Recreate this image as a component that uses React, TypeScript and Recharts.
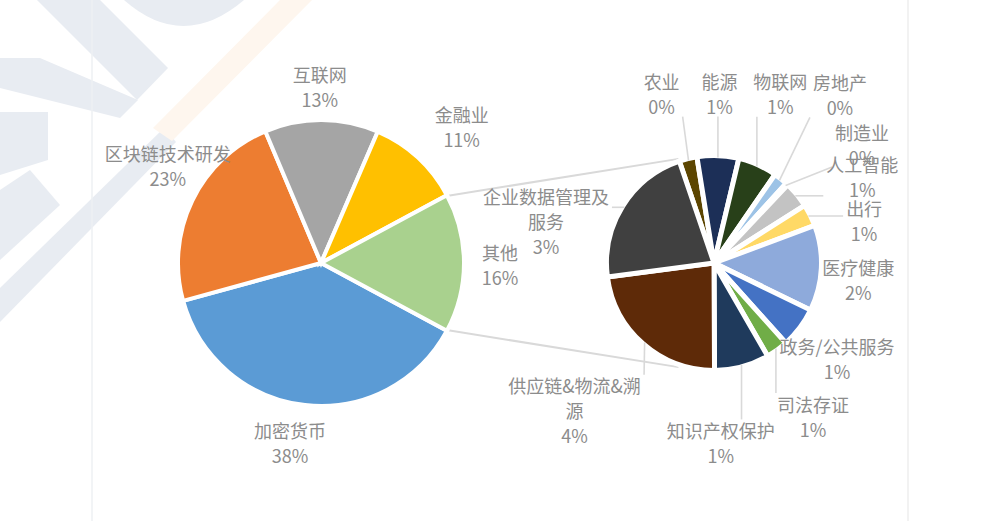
import React from "react";
import { PieChart, Pie, Cell } from "recharts";

// main pie (the last slice "其他" is split out into the small pie)
const mainNames = ["加密货币", "区块链技术研发", "互联网", "金融业"];
const mainValues = [37.7, 22.8, 12.8, 10.6];
const mainColors = ["#5b9bd5", "#ed7d31", "#a5a5a5", "#ffc000"];
const otherName = "其他";
const otherColor = "#a9d18e";

// breakdown of "其他"
const subNames = [
  "农业", "能源", "物联网", "房地产", "制造业", "人工智能", "出行",
  "医疗健康", "政务/公共服务", "司法存证", "知识产权保护", "供应链&物流&溯源", "企业数据管理及服务",
];
const subValues = [0.42, 0.98, 0.92, 0.33, 0.05, 0.62, 0.52, 2.02, 0.96, 0.52, 1.29, 3.6, 3.42];
const subColors = [
  "#5c4500", "#1c2f57", "#284019", "#9dc3e6", "#f4b183", "#c3c3c3", "#ffd966",
  "#8eaadb", "#4472c4", "#70ad47", "#1f3a5c", "#5e2a08", "#404040",
];

const otherTotal = subValues.reduce((s, v) => s + v, 0);
const grandTotal = mainValues.reduce((s, v) => s + v, 0) + otherTotal;

const mainData = [
  ...mainNames.map((name, i) => ({ name, value: mainValues[i] })),
  { name: otherName, value: otherTotal },
];
const mainFills = [...mainColors, otherColor];
const subData = subNames.map((name, i) => ({ name, value: subValues[i] }));

// layout
const W = 999;
const H = 521;
const LEFT = { cx: 321, cy: 263, r: 143, stroke: 4 };
const RIGHT = { cx: 714, cy: 263, r: 107.5, stroke: 5 };
const otherHalf = (otherTotal / grandTotal) * 180;
const subStart = 108.8;
const FONT = '"Noto Sans CJK SC", "Noto Sans", sans-serif';
const TEXT = "#8c8c8c";
const LINE = 25;
const RAD = Math.PI / 180;

const mainNudge: Record<string, [number, number]> = {
  互联网: [-2, 0],
  金融业: [21, -6],
  区块链技术研发: [6, -20],
  其他: [2, 1],
  加密货币: [-11, 4],
};
const subNudge: Record<string, [number, number]> = {
  农业: [-10, 1],
  能源: [-1, 6],
  物联网: [-5, -9],
  房地产: [17, -31],
  制造业: [29, 10],
  人工智能: [13, 25],
  出行: [-7, 36],
  医疗健康: [-31, 8],
  "政务/公共服务": [-17, -10],
  司法存证: [-4, 11],
  知识产权保护: [-39, 10],
  "供应链&物流&溯源": [-24, 15],
  企业数据管理及服务: [-19, 51],
};

const charW = (ch: string) =>
  /[\u3000-\u9fff\uff00-\uffef]/.test(ch) ? 18 : ch === "%" ? 15.5 : ch === "&" ? 12.5 : ch === "/" ? 7 : 10.3;
const textW = (s: string) => [...s].reduce((w, c) => w + charW(c), 0);

function wrap(s: string, max = 135) {
  const out: string[] = [];
  let cur = "";
  for (const ch of s) {
    if (cur && textW(cur + ch) > max) {
      out.push(cur);
      cur = ch;
    } else cur += ch;
  }
  if (cur) out.push(cur);
  return out;
}

const clamp = (v: number, a: number, b: number) => Math.max(a, Math.min(b, v));

function makeLabel(nudges: Record<string, [number, number]>, extra: number, leaders: boolean, edge: number) {
  return (p: any) => {
    const { cx, cy, midAngle, outerRadius } = p;
    const name = p.payload?.name ?? p.name;
    const value = p.payload?.value ?? p.value;
    const cos = Math.cos(midAngle * RAD);
    const sin = Math.sin(midAngle * RAD);
    const [nx, ny] = nudges[name] || [0, 0];
    const lx = cx + (outerRadius + extra) * cos + nx;
    const ly = cy - (outerRadius + extra) * sin + ny;
    const lines = [...wrap(name), `${Math.round((value / grandTotal) * 100)}%`];
    const h = lines.length * LINE;
    const w = Math.max(...lines.map(textW));
    let leader = null;
    if (leaders) {
      const ex = cx + (outerRadius - edge) * cos;
      const ey = cy - (outerRadius - edge) * sin;
      const bx = clamp(ex, lx - w / 2 - 3, lx + w / 2 + 3);
      const by = clamp(ey, ly - h / 2 + 2, ly + h / 2 - 2);
      if (Math.hypot(bx - ex, by - ey) > 12) {
        leader = <line x1={ex} y1={ey} x2={bx} y2={by} stroke="#d9d9d9" strokeWidth={1.6} />;
      }
    }
    return (
      <g key={`lbl-${name}`}>
        {leader}
        <text textAnchor="middle" fill={TEXT} fontFamily={FONT} fontSize={18}>
          {lines.map((t, i) => (
            <tspan key={i} x={lx} y={ly + (i - (lines.length - 1) / 2) * LINE} dominantBaseline="central">
              {t}
            </tspan>
          ))}
        </text>
      </g>
    );
  };
}

function Backdrop() {
  const a = otherHalf * RAD;
  const lr = LEFT.r - LEFT.stroke / 2;
  const rr = RIGHT.r - RIGHT.stroke / 2 + 5;
  const sx = LEFT.cx + lr * Math.cos(a);
  const ex = RIGHT.cx + rr * Math.cos(subStart * RAD);
  const top = [LEFT.cy - lr * Math.sin(a), RIGHT.cy - rr * Math.sin(subStart * RAD)];
  const bot = [LEFT.cy + lr * Math.sin(a), RIGHT.cy + rr * Math.sin(subStart * RAD)];
  return (
    <svg width={W} height={H} style={{ position: "absolute", left: 0, top: 0 }}>
      <rect width={W} height={H} fill="#ffffff" />
      {/* faint watermark */}
      <g fill="#e8ecf2">
        <path d="M124 0 Q183 52 244 0 Z" />
        <polygon points="37,0 100,0 168,68 137,100" />
        <polygon points="0,58 40,58 138,100 120,118 0,88" />
        <polygon points="0,112 48,112 48,160 0,175" />
        <polygon points="0,288 0,322 176,142 164,128" />
        <polygon points="0,190 30,170 60,205 0,260" />
      </g>
      <polygon points="153,128 172,141 312,0 280,0" fill="#fef6ee" />
      <line x1={92} y1={0} x2={92} y2={H} stroke="#eef0f3" strokeWidth={1.5} />
      <line x1={908} y1={0} x2={908} y2={H} stroke="#eeeeee" strokeWidth={1.5} />
      {/* connectors from the split slice to the second pie */}
      <line x1={sx} y1={top[0]} x2={ex} y2={top[1]} stroke="#d9d9d9" strokeWidth={2} />
      <line x1={sx} y1={bot[0]} x2={ex} y2={bot[1]} stroke="#d9d9d9" strokeWidth={2} />
    </svg>
  );
}

export default function App() {
  return (
    <div style={{ position: "absolute", left: 0, top: 0, width: W, height: H }}>
      <Backdrop />
      <div style={{ position: "absolute", left: 0, top: 0 }}>
        <PieChart width={W} height={H} margin={{ top: 0, right: 0, bottom: 0, left: 0 }}>
          <Pie
            data={mainData}
            dataKey="value"
            nameKey="name"
            cx={LEFT.cx}
            cy={LEFT.cy}
            outerRadius={LEFT.r}
            startAngle={-otherHalf}
            endAngle={-otherHalf - 360}
            stroke="#ffffff"
            strokeWidth={LEFT.stroke}
            label={makeLabel(mainNudge, 34, false, 0)}
            labelLine={false}
            isAnimationActive={false}
          >
            {mainData.map((d, i) => (
              <Cell key={d.name} fill={mainFills[i]} />
            ))}
          </Pie>
          <Pie
            data={subData}
            dataKey="value"
            nameKey="name"
            cx={RIGHT.cx}
            cy={RIGHT.cy}
            outerRadius={RIGHT.r}
            startAngle={subStart}
            endAngle={subStart - 360}
            stroke="#ffffff"
            strokeWidth={RIGHT.stroke}
            label={makeLabel(subNudge, 68, true, 2)}
            labelLine={false}
            isAnimationActive={false}
          >
            {subData.map((d, i) => (
              <Cell key={d.name} fill={subColors[i]} />
            ))}
          </Pie>
        </PieChart>
      </div>
    </div>
  );
}
